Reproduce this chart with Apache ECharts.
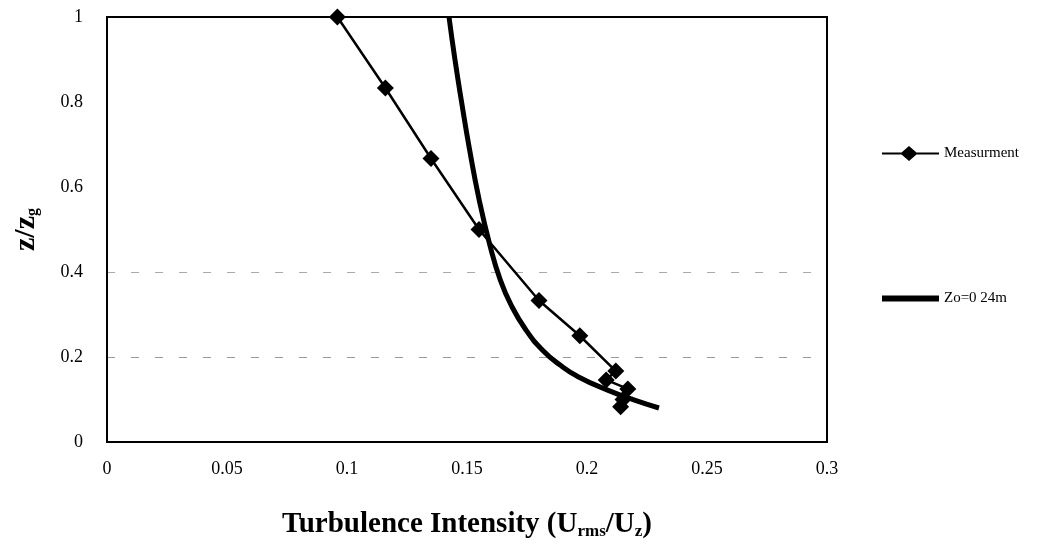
<!DOCTYPE html>
<html>
<head>
<meta charset="utf-8">
<script src="https://cdn.jsdelivr.net/npm/echarts@6/dist/echarts.min.js"></script>
<style>
  html, body { margin: 0; padding: 0; background: #fff; }
  #chart { width: 1057px; height: 550px; }
</style>
</head>
<body>
<div id="chart"></div>
<script>
// measured profile (turbulence intensity, z/zg)
var measX = [0.096, 0.116, 0.135, 0.155, 0.180, 0.197, 0.212, 0.208, 0.217, 0.215, 0.214];
var measZ = [1.0, 0.833, 0.667, 0.5, 0.333, 0.25, 0.167, 0.146, 0.125, 0.1, 0.083];

// theoretical curve Zo=0.24m
var curveX = [0.1425, 0.1450, 0.1476, 0.1511, 0.1551, 0.1595, 0.1639, 0.1684, 0.1745, 0.1815, 0.1888, 0.1965, 0.2086, 0.2195, 0.2300];
var curveZ = [1.0, 0.899, 0.805, 0.687, 0.569, 0.464, 0.381, 0.322, 0.264, 0.216, 0.181, 0.153, 0.122, 0.099, 0.08];

var xTicks = ['0', '0.05', '0.1', '0.15', '0.2', '0.25', '0.3'];
var yTicks = ['0', '0.2', '0.4', '0.6', '0.8', '1'];

var serif = '"Liberation Serif", "DejaVu Serif", serif';

function pairs(xs, ys) {
  return xs.map(function (x, i) { return [x, ys[i]]; });
}

var chart = echarts.init(document.getElementById('chart'), null, { renderer: 'canvas' });

var option = {
  animation: false,
  backgroundColor: '#fff',
  grid: {
    left: 107,
    right: 230,
    top: 17,
    bottom: 108,
    show: true,
    borderColor: '#000',
    borderWidth: 2
  },
  legend: {
    orient: 'vertical',
    left: 877,
    top: 141,
    itemGap: 130,
    itemWidth: 57,
    itemHeight: 15,
    textStyle: { fontFamily: serif, fontSize: 15, color: '#000' },
    data: [
      // line with diamond
      { name: 'Measurment', icon: 'path://M0,6.5 L19.5,6.5 L27,0 L34.5,6.5 L57,6.5 L57,8.5 L34.5,8.5 L27,15 L19.5,8.5 L0,8.5 Z' },
      // thick bar
      { name: 'Zo=0 24m', icon: 'path://M0,0 L57,0 L57,6 L0,6 Z' }
    ]
  },
  xAxis: {
    type: 'value',
    min: 0,
    max: 0.3,
    interval: 0.05,
    axisLine: { show: true, lineStyle: { color: '#000', width: 2 } },
    axisTick: { show: false },
    splitLine: { show: false },
    axisLabel: {
      margin: 18,
      fontFamily: serif,
      fontSize: 18,
      color: '#000',
      formatter: function (v, i) { return xTicks[i]; }
    },
    name: '{a|Turbulence Intensity (U}{s|rms}{a|/U}{s|z}{a|)}',
    nameLocation: 'middle',
    nameGap: 68,
    nameTextStyle: {
      rich: {
        a: { fontFamily: serif, fontSize: 29, fontWeight: 'bold', color: '#000' },
        s: { fontFamily: serif, fontSize: 17, fontWeight: 'bold', color: '#000', padding: [13, 0, 0, 0] }
      }
    }
  },
  yAxis: {
    type: 'value',
    min: 0,
    max: 1,
    interval: 0.2,
    axisLine: { show: true, lineStyle: { color: '#000', width: 2 } },
    axisTick: { show: false },
    splitLine: {
      show: true,
      lineStyle: {
        color: ['rgba(0,0,0,0)', '#999', '#aaa', 'rgba(0,0,0,0)', 'rgba(0,0,0,0)', 'rgba(0,0,0,0)'],
        type: [8, 16],
        width: 1
      }
    },
    axisLabel: {
      margin: 24,
      fontFamily: serif,
      fontSize: 18,
      color: '#000',
      formatter: function (v, i) { return yTicks[i]; }
    },
    name: '{a|z/z}{s|g}',
    nameLocation: 'middle',
    nameGap: 66,
    nameRotate: 90,
    nameTextStyle: {
      rich: {
        a: { fontFamily: serif, fontSize: 30, fontWeight: 'bold', color: '#000' },
        s: { fontFamily: serif, fontSize: 16, fontWeight: 'bold', color: '#000', padding: [13, 0, 0, 0] }
      }
    }
  },
  series: [
    {
      name: 'Measurment',
      type: 'line',
      data: pairs(measX, measZ),
      symbol: 'diamond',
      symbolSize: 17,
      showSymbol: true,
      itemStyle: { color: '#000' },
      lineStyle: { color: '#000', width: 2.5 },
      z: 3
    },
    {
      name: 'Zo=0 24m',
      type: 'line',
      data: pairs(curveX, curveZ),
      smooth: 0.5,
      showSymbol: false,
      symbol: 'none',
      itemStyle: { color: '#000' },
      lineStyle: { color: '#000', width: 5 },
      z: 2
    }
  ]
};

chart.setOption(option);
</script>
</body>
</html>
